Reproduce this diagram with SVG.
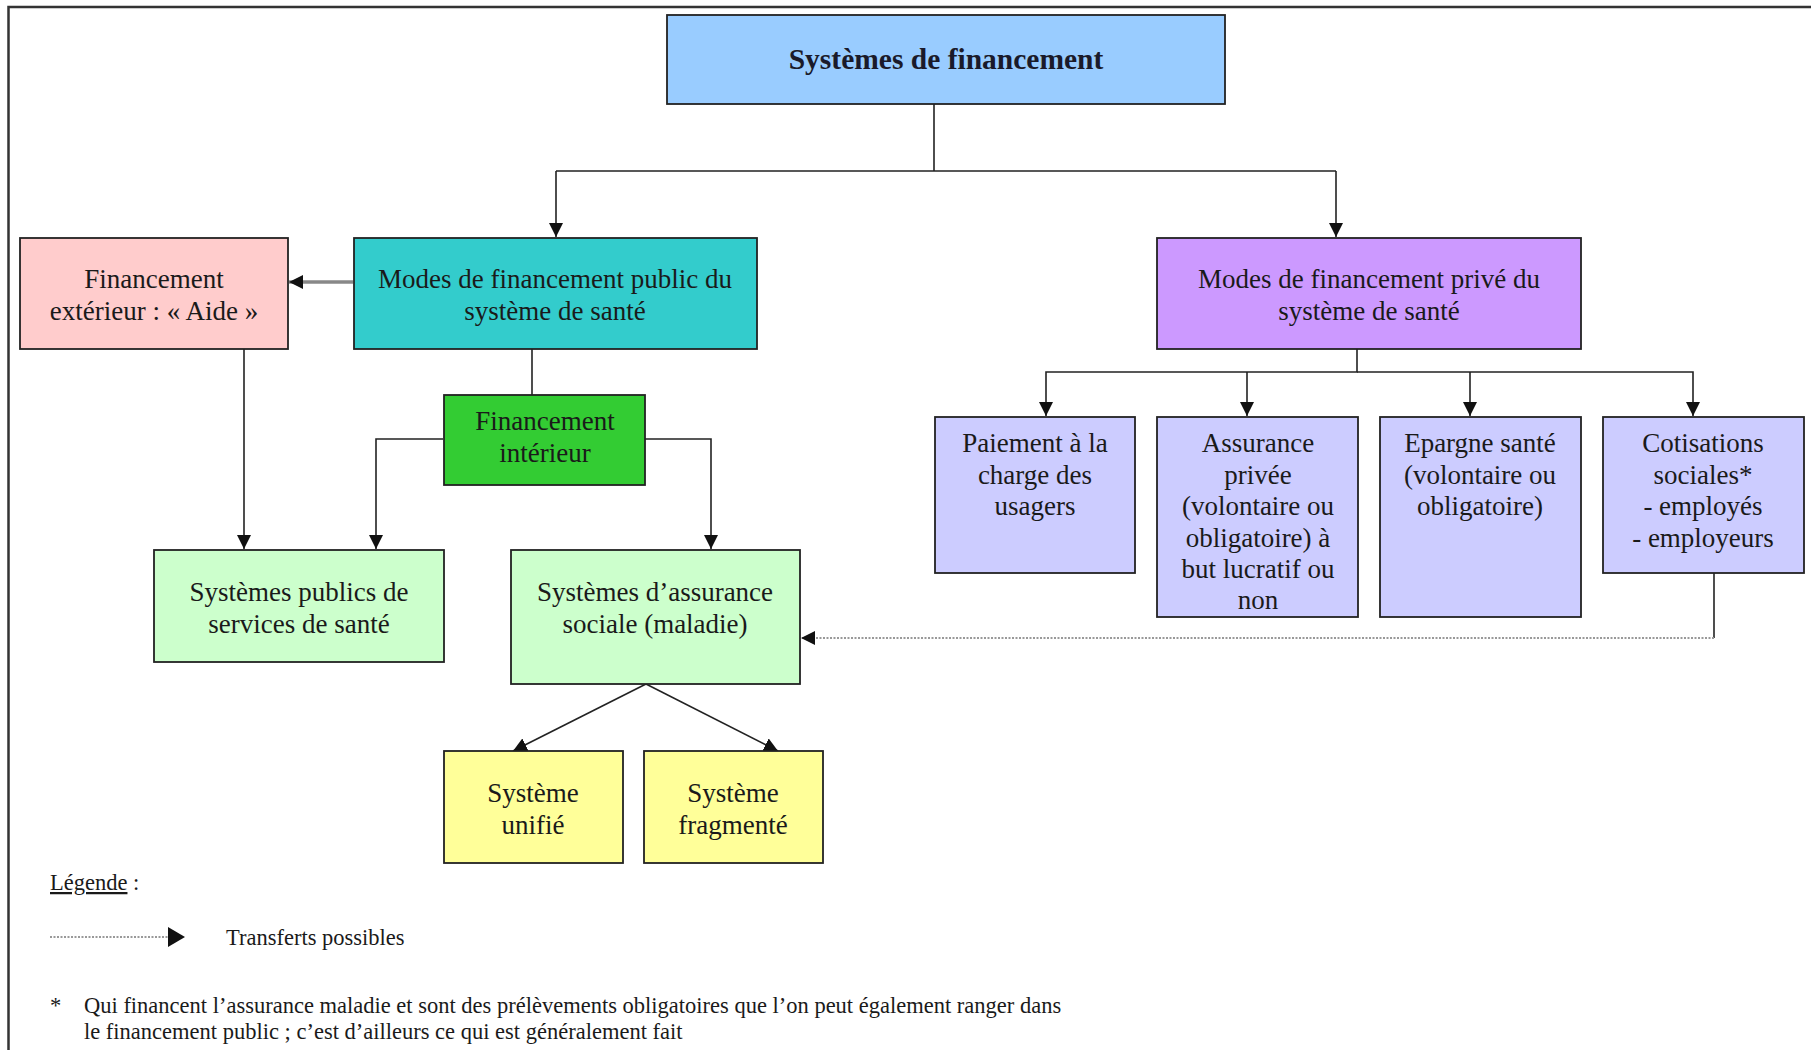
<svg xmlns="http://www.w3.org/2000/svg" width="1811" height="1050" viewBox="0 0 1811 1050">
<defs>
<style>
.box{stroke:#222;stroke-width:1.8}
.t{font-family:"Liberation Serif","Times New Roman",serif;font-size:27px;fill:#1a1a1a;text-anchor:middle}
.tb{font-family:"Liberation Serif","Times New Roman",serif;font-size:29.5px;font-weight:bold;fill:#1a1a2a;text-anchor:middle}
.s{font-family:"Liberation Serif","Times New Roman",serif;font-size:22.5px;fill:#1a1a1a}
.c{fill:none;stroke:#222;stroke-width:1.6}
.d{fill:none;stroke:#999;stroke-width:2;stroke-dasharray:2 1.5}
</style>
<marker id="ah" viewBox="0 0 10 10" refX="10" refY="5" markerWidth="14" markerHeight="14" markerUnits="userSpaceOnUse" orient="auto">
<path d="M0,0 L10,5 L0,10 z" fill="#111"/>
</marker>
</defs>
<rect width="1811" height="1050" fill="#fff"/>
<path d="M8.5,1050 V7 H1811" fill="none" stroke="#333" stroke-width="2.5"/>

<g id="connectors">
<path class="c" d="M934,104 V171 M556,171 H1336 M556,171 V237" marker-end="url(#ah)"/>
<path class="c" d="M1336,171 V237" marker-end="url(#ah)"/>
<path d="M353,282 H289" fill="none" stroke="#888" stroke-width="3.5" marker-end="url(#ah)"/>
<path class="c" d="M532,349 V395"/>
<path class="c" d="M244,349 V549" marker-end="url(#ah)"/>
<path class="c" d="M443,439 H376 V549" marker-end="url(#ah)"/>
<path class="c" d="M645,439 H711 V549" marker-end="url(#ah)"/>
<path class="c" d="M1357,349 V372 H1046 V416" marker-end="url(#ah)"/>
<path class="c" d="M1247,372 V416" marker-end="url(#ah)"/>
<path class="c" d="M1357,372 H1693 V416" marker-end="url(#ah)"/>
<path class="c" d="M1470,372 V416" marker-end="url(#ah)"/>
<path class="c" d="M1714,573 V638"/>
<path class="d" d="M1714,638 H801" marker-end="url(#ah)"/>
<path class="c" d="M646,684 L513,751" marker-end="url(#ah)"/>
<path class="c" d="M646,684 L778,751" marker-end="url(#ah)"/>
</g>

<g id="n-systemes-financement">
<rect class="box" x="667" y="15" width="558" height="89" fill="#99ccff"/>
<text class="tb" x="946" y="69">Systèmes de financement</text>
</g>
<g id="n-public">
<rect class="box" x="354" y="238" width="403" height="111" fill="#33cccc"/>
<text class="t" x="555" y="288">Modes de financement public du</text>
<text class="t" x="555" y="320">système de santé</text>
</g>
<g id="n-exterieur">
<rect class="box" x="20" y="238" width="268" height="111" fill="#ffcccc"/>
<text class="t" x="154" y="288">Financement</text>
<text class="t" x="154" y="320">extérieur : « Aide »</text>
</g>
<g id="n-interieur">
<rect class="box" x="444" y="395" width="201" height="90" fill="#33cc33"/>
<text class="t" x="545" y="430">Financement</text>
<text class="t" x="545" y="462">intérieur</text>
</g>
<g id="n-publics-services">
<rect class="box" x="154" y="550" width="290" height="112" fill="#ccffcc"/>
<text class="t" x="299" y="601">Systèmes publics de</text>
<text class="t" x="299" y="633">services de santé</text>
</g>
<g id="n-assurance-sociale">
<rect class="box" x="511" y="550" width="289" height="134" fill="#ccffcc"/>
<text class="t" x="655" y="601">Systèmes d’assurance</text>
<text class="t" x="655" y="633">sociale (maladie)</text>
</g>
<g id="n-unifie">
<rect class="box" x="444" y="751" width="179" height="112" fill="#ffff99"/>
<text class="t" x="533" y="802">Système</text>
<text class="t" x="533" y="834">unifié</text>
</g>
<g id="n-fragmente">
<rect class="box" x="644" y="751" width="179" height="112" fill="#ffff99"/>
<text class="t" x="733" y="802">Système</text>
<text class="t" x="733" y="834">fragmenté</text>
</g>
<g id="n-prive">
<rect class="box" x="1157" y="238" width="424" height="111" fill="#cc99ff"/>
<text class="t" x="1369" y="288">Modes de financement privé du</text>
<text class="t" x="1369" y="320">système de santé</text>
</g>
<g id="n-paiement">
<rect class="box" x="935" y="417" width="200" height="156" fill="#ccccff"/>
<text class="t" x="1035" y="452">Paiement à la</text>
<text class="t" x="1035" y="484">charge des</text>
<text class="t" x="1035" y="515">usagers</text>
</g>
<g id="n-assurance-privee">
<rect class="box" x="1157" y="417" width="201" height="200" fill="#ccccff"/>
<text class="t" x="1258" y="452">Assurance</text>
<text class="t" x="1258" y="484">privée</text>
<text class="t" x="1258" y="515">(volontaire ou</text>
<text class="t" x="1258" y="547">obligatoire) à</text>
<text class="t" x="1258" y="578">but lucratif ou</text>
<text class="t" x="1258" y="609">non</text>
</g>
<g id="n-epargne">
<rect class="box" x="1380" y="417" width="201" height="200" fill="#ccccff"/>
<text class="t" x="1480" y="452">Epargne santé</text>
<text class="t" x="1480" y="484">(volontaire ou</text>
<text class="t" x="1480" y="515">obligatoire)</text>
</g>
<g id="n-cotisations">
<rect class="box" x="1603" y="417" width="201" height="156" fill="#ccccff"/>
<text class="t" x="1703" y="452">Cotisations</text>
<text class="t" x="1703" y="484">sociales*</text>
<text class="t" x="1703" y="515">- employés</text>
<text class="t" x="1703" y="547">- employeurs</text>
</g>

<g id="legend">
<text class="s" x="50" y="890"><tspan text-decoration="underline">Légende</tspan> :</text>
<path class="d" d="M50,937 H168"/>
<path d="M168,927 L185,937 L168,947 z" fill="#111"/>
<text class="s" x="226" y="945">Transferts possibles</text>
<text class="s" x="50" y="1013">*</text>
<text class="s" x="84" y="1013">Qui financent l’assurance maladie et sont des prélèvements obligatoires que l’on peut également ranger dans</text>
<text class="s" x="84" y="1039">le financement public ; c’est d’ailleurs ce qui est généralement fait</text>
</g>
</svg>
